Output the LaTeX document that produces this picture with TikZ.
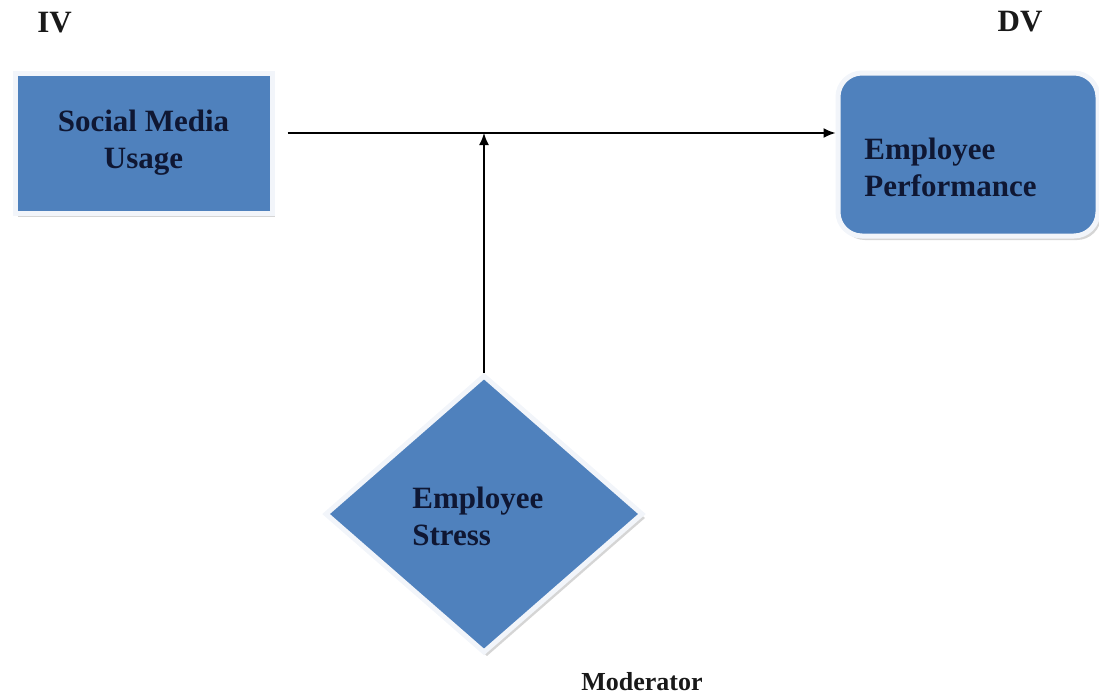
\documentclass[tikz,border=0pt]{standalone}
\usepackage{fontspec}
\setmainfont{Liberation Serif}
\usetikzlibrary{shapes.geometric,shadows,arrows.meta}
\definecolor{boxblue}{HTML}{4F81BD}
\definecolor{boxtext}{HTML}{0F1733}
\definecolor{rimwhite}{HTML}{F2F5FA}
\begin{document}
\begin{tikzpicture}[x=0.5pt, y=-0.5pt]
    % Define styles
    \tikzstyle{varbox} = [draw=rimwhite, line width=2.5pt, fill=boxblue, drop shadow={shadow xshift=1.5pt, shadow yshift=-2pt, fill=gray!65}, text=boxtext, font=\bfseries\fontsize{15.5}{18.5}\selectfont, align=center]
    \tikzstyle{boxtitle} = [inner sep=0pt, text=boxtext, font=\bfseries\fontsize{15.5}{18.5}\selectfont, align=left]
    \tikzstyle{roletag} = [inner sep=0pt, text=black!90, font=\bfseries\fontsize{15.5}{18}\selectfont]
    \tikzstyle{arrow} = [->, >={Latex[length=6pt, width=5pt]}, thick]

    \useasboundingbox (0,0) rectangle (1099,698);

    % Independent variable
    \node[varbox, minimum width=128.5pt, minimum height=70pt] (smu) at (143.5,143) {Social Media\\Usage};

    % Dependent variable
    \node[varbox, rounded corners=12pt, minimum width=130pt, minimum height=81.5pt] (ep) at (968,154.5) {};
    \node[boxtitle, anchor=west] (eptext) at (864,167) {Employee\\Performance};

    % Moderator
    \node[varbox, diamond, inner sep=0pt, minimum width=159pt, minimum height=139pt] (es) at (484,514) {};
    \node[boxtitle, anchor=west] (estext) at (412,516) {Employee\\Stress};

    % Arrows
    \coordinate (jn) at ([yshift=5pt]smu.east);
    \draw[arrow, shorten <=6.5pt] (jn) -- (jn -| ep.west);
    \draw[arrow] (es.north) -- (es.north |- jn);

    % Role labels
    \node[roletag, anchor=west] (iv) at (37,23) {IV};
    \node[roletag] (dv) at (1020,22) {DV};
    \node[roletag, font=\bfseries\fontsize{13}{15}\selectfont] (mod) at (642,682) {Moderator};
\end{tikzpicture}
\end{document}
